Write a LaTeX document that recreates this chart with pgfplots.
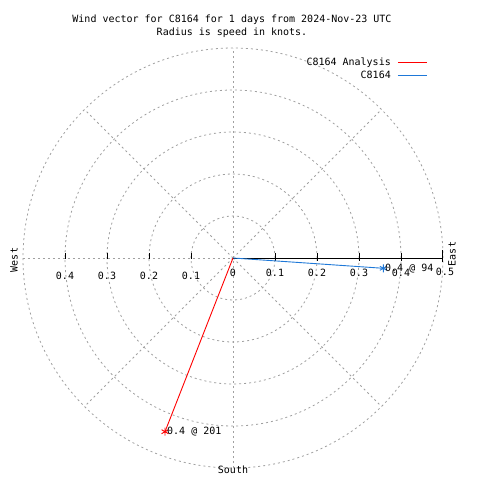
\documentclass[border=0pt]{standalone}
\usepackage{fontspec}
\setmainfont{DejaVu Sans Mono}
\usepackage{pgfplots}
\pgfplotsset{compat=1.18}
\definecolor{gridgray}{RGB}{160,160,160}
\definecolor{vecblue}{RGB}{30,120,216}
\definecolor{vecred}{RGB}{255,0,0}
\begin{document}
\begin{tikzpicture}[x=1pt,y=1pt,font=\fontsize{10}{12}\selectfont]
\path[use as bounding box, fill=white] (-233,-222) rectangle (247,258);
% grid
\begin{scope}[gridgray, dash pattern=on 2pt off 3pt, line width=0.8pt]
\foreach \r in {42,84,126,168,210} {\draw (0,0) circle[radius=\r];}
\draw (0,-210) -- (0,210);
\draw (-210,0) -- (0,0);
\foreach \a in {45,135,225,315} {\draw (0,0) -- (\a:210);}
\end{scope}
% axis line with ticks
\draw[black, line width=0.8pt] (0,0) -- (209,0);
\foreach \t in {42,84,126,168} {\draw[black, line width=0.8pt] (\t,5) -- (\t,-3);}
\draw[black, line width=0.8pt] (209,8) -- (209,-4);
\foreach \t in {-42,-84,-126,-168} {\draw[black, line width=0.8pt] (\t,5) -- (\t,-1);}
\begin{axis}[at={(0,0)}, anchor=center, x=420pt, y=420pt, hide axis, clip=false,
  xmin=-0.5, xmax=0.5, ymin=-0.5, ymax=0.5]
\addplot[vecblue, line width=0.9pt, mark=asterisk, mark size=4pt, mark indices={2}] coordinates {(0,0) (0.358,-0.0245)};
\addplot[vecred, line width=0.9pt, mark=asterisk, mark size=4pt, mark indices={2}] coordinates {(0,0) (-0.1619,-0.4136)};
\end{axis}
% tick labels
\node at (0,-15) {0};
\node at (42,-15) {0.1};
\node at (84,-15) {0.2};
\node at (126,-15) {0.3};
\node at (168,-15) {0.4};
\node at (212,-14) {0.5};
\node at (-42,-18) {0.1};
\node at (-84,-18) {0.2};
\node at (-126,-18) {0.3};
\node at (-168,-18) {0.4};
% direction labels
\node[rotate=90] at (-219,-2) {West};
\node[rotate=90] at (219,4) {East};
\node at (0,-212) {South};
% value labels
\node[anchor=west, inner sep=0pt] at (-66,-174) {0.4 @ 201};
\node[anchor=west, inner sep=0pt] at (152,-11) {0.4 @ 94};
% title
\node at (-1,238) {Wind vector for C8164 for 1 days from 2024-Nov-23 UTC};
\node at (-1,225) {Radius is speed in knots.};
% legend
\node[anchor=east, inner sep=0pt] at (158,195) {C8164 Analysis};
\draw[vecred, line width=0.9pt] (165,196) -- (194,196);
\node[anchor=east, inner sep=0pt] at (158,183) {C8164};
\draw[vecblue, line width=0.9pt] (165,183) -- (194,183);
\end{tikzpicture}
\end{document}
